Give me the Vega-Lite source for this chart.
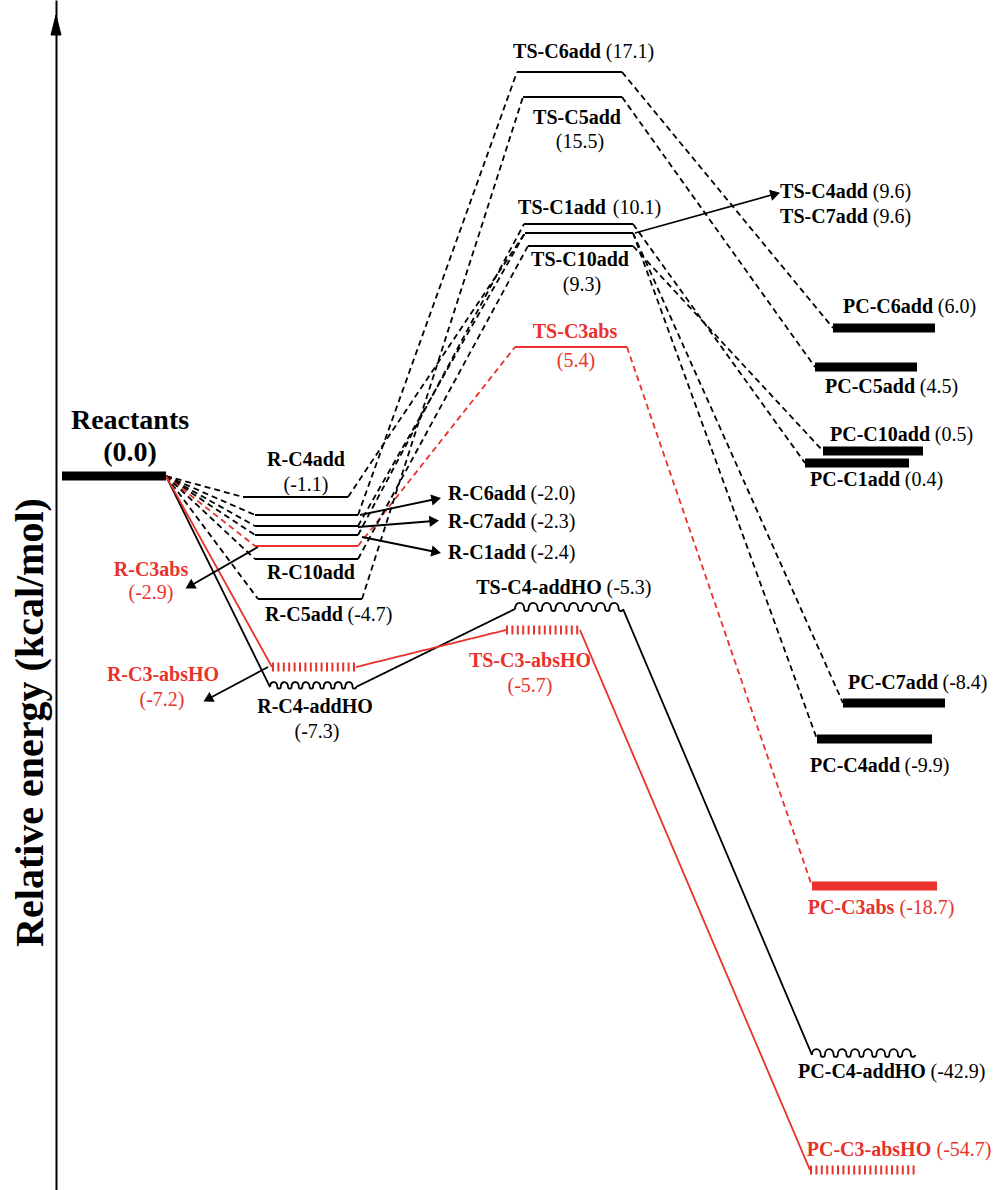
{
  "$schema": "https://vega.github.io/schema/vega-lite/v6.json",
  "width": 996,
  "height": 1190,
  "autosize": "none",
  "padding": 0,
  "background": "white",
  "config": {"view": {"stroke": null}, "text": {"font": "Liberation Serif"}},
  "datasets": {
    "levels": [
      {"species": "Reactants", "stage": "reactant", "route": "common", "reagent": "OH", "energy": 0.0, "x0": 62, "x1": 166},
      {"species": "R-C4add", "stage": "complex", "route": "addition", "reagent": "OH", "energy": -1.1, "x0": 243, "x1": 348},
      {"species": "R-C6add", "stage": "complex", "route": "addition", "reagent": "OH", "energy": -2.0, "x0": 255, "x1": 358},
      {"species": "R-C7add", "stage": "complex", "route": "addition", "reagent": "OH", "energy": -2.3, "x0": 255, "x1": 358},
      {"species": "R-C1add", "stage": "complex", "route": "addition", "reagent": "OH", "energy": -2.4, "x0": 255, "x1": 358},
      {"species": "R-C3abs", "stage": "complex", "route": "abstraction", "reagent": "OH", "energy": -2.9, "x0": 255, "x1": 358},
      {"species": "R-C10add", "stage": "complex", "route": "addition", "reagent": "OH", "energy": -3.3, "x0": 255, "x1": 358},
      {"species": "R-C5add", "stage": "complex", "route": "addition", "reagent": "OH", "energy": -4.7, "x0": 258, "x1": 362},
      {"species": "R-C3-absHO", "stage": "complex", "route": "abstraction", "reagent": "HO", "energy": -7.2, "x0": 272, "x1": 356},
      {"species": "R-C4-addHO", "stage": "complex", "route": "addition", "reagent": "HO", "energy": -7.3, "x0": 270, "x1": 356},
      {"species": "TS-C6add", "stage": "TS", "route": "addition", "reagent": "OH", "energy": 17.1, "x0": 517, "x1": 622},
      {"species": "TS-C5add", "stage": "TS", "route": "addition", "reagent": "OH", "energy": 15.5, "x0": 523, "x1": 622},
      {"species": "TS-C1add", "stage": "TS", "route": "addition", "reagent": "OH", "energy": 10.1, "x0": 524, "x1": 633},
      {"species": "TS-C4add", "stage": "TS", "route": "addition", "reagent": "OH", "energy": 9.6, "x0": 525, "x1": 633},
      {"species": "TS-C7add", "stage": "TS", "route": "addition", "reagent": "OH", "energy": 9.6, "x0": 525, "x1": 633},
      {"species": "TS-C10add", "stage": "TS", "route": "addition", "reagent": "OH", "energy": 9.3, "x0": 528, "x1": 633},
      {"species": "TS-C3abs", "stage": "TS", "route": "abstraction", "reagent": "OH", "energy": 5.4, "x0": 515, "x1": 627},
      {"species": "TS-C4-addHO", "stage": "TS", "route": "addition", "reagent": "HO", "energy": -5.3, "x0": 515, "x1": 623},
      {"species": "TS-C3-absHO", "stage": "TS", "route": "abstraction", "reagent": "HO", "energy": -5.7, "x0": 506, "x1": 580},
      {"species": "PC-C6add", "stage": "product", "route": "addition", "reagent": "OH", "energy": 6.0, "x0": 833, "x1": 935},
      {"species": "PC-C5add", "stage": "product", "route": "addition", "reagent": "OH", "energy": 4.5, "x0": 815, "x1": 917},
      {"species": "PC-C10add", "stage": "product", "route": "addition", "reagent": "OH", "energy": 0.5, "x0": 823, "x1": 923},
      {"species": "PC-C1add", "stage": "product", "route": "addition", "reagent": "OH", "energy": 0.4, "x0": 805, "x1": 909},
      {"species": "PC-C7add", "stage": "product", "route": "addition", "reagent": "OH", "energy": -8.4, "x0": 843, "x1": 945},
      {"species": "PC-C4add", "stage": "product", "route": "addition", "reagent": "OH", "energy": -9.9, "x0": 817, "x1": 932},
      {"species": "PC-C3abs", "stage": "product", "route": "abstraction", "reagent": "OH", "energy": -18.7, "x0": 812, "x1": 937},
      {"species": "PC-C4-addHO", "stage": "product", "route": "addition", "reagent": "HO", "energy": -42.9, "x0": 812, "x1": 915},
      {"species": "PC-C3-absHO", "stage": "product", "route": "abstraction", "reagent": "HO", "energy": -54.7, "x0": 810, "x1": 918}
    ],
    "links": [
      {"from": "Reactants", "to": "R-C4add"},
      {"from": "Reactants", "to": "R-C6add"},
      {"from": "Reactants", "to": "R-C7add"},
      {"from": "Reactants", "to": "R-C1add"},
      {"from": "Reactants", "to": "R-C3abs"},
      {"from": "Reactants", "to": "R-C10add"},
      {"from": "Reactants", "to": "R-C5add"},
      {"from": "Reactants", "to": "R-C4-addHO"},
      {"from": "Reactants", "to": "R-C3-absHO"},
      {"from": "R-C4add", "to": "TS-C4add"},
      {"from": "R-C6add", "to": "TS-C6add"},
      {"from": "R-C7add", "to": "TS-C7add"},
      {"from": "R-C1add", "to": "TS-C1add"},
      {"from": "R-C3abs", "to": "TS-C3abs"},
      {"from": "R-C10add", "to": "TS-C10add"},
      {"from": "R-C5add", "to": "TS-C5add"},
      {"from": "R-C4-addHO", "to": "TS-C4-addHO"},
      {"from": "R-C3-absHO", "to": "TS-C3-absHO"},
      {"from": "TS-C6add", "to": "PC-C6add"},
      {"from": "TS-C5add", "to": "PC-C5add"},
      {"from": "TS-C1add", "to": "PC-C1add"},
      {"from": "TS-C4add", "to": "PC-C4add"},
      {"from": "TS-C7add", "to": "PC-C7add"},
      {"from": "TS-C10add", "to": "PC-C10add"},
      {"from": "TS-C3abs", "to": "PC-C3abs"},
      {"from": "TS-C4-addHO", "to": "PC-C4-addHO"},
      {"from": "TS-C3-absHO", "to": "PC-C3-absHO"}
    ],
    "pointers": [
      {"target": "R-C6add", "x": 360, "y": 515, "x2": 436, "y2": 499},
      {"target": "R-C7add", "x": 358, "y": 527, "x2": 434, "y2": 521},
      {"target": "R-C1add", "x": 362, "y": 537, "x2": 436, "y2": 552},
      {"target": "R-C3abs", "x": 258, "y": 547, "x2": 190, "y2": 586},
      {"target": "R-C3-absHO", "x": 268, "y": 667, "x2": 208, "y2": 699},
      {"target": "TS-C4add", "x": 635, "y": 233, "x2": 775, "y2": 194}
    ],
    "axisTip": [{"x": 56, "y": 25}],
    "labels": [
      {"text": "Reactants", "part": "reactant", "route": "common", "x": 130, "y": 421},
      {"text": "(0.0)", "part": "reactant", "route": "common", "x": 130, "y": 453},
      {"text": "R-C4add", "part": "name", "route": "addition", "x": 306, "y": 460},
      {"text": "(-1.1)", "part": "value", "route": "addition", "x": 306, "y": 485},
      {"text": "R-C6add", "part": "name", "route": "addition", "x": 487, "y": 494},
      {"text": "(-2.0)", "part": "value", "route": "addition", "x": 553, "y": 494},
      {"text": "R-C7add", "part": "name", "route": "addition", "x": 487, "y": 522},
      {"text": "(-2.3)", "part": "value", "route": "addition", "x": 553, "y": 522},
      {"text": "R-C1add", "part": "name", "route": "addition", "x": 487, "y": 553},
      {"text": "(-2.4)", "part": "value", "route": "addition", "x": 553, "y": 553},
      {"text": "R-C3abs", "part": "name", "route": "abstraction", "x": 151, "y": 570},
      {"text": "(-2.9)", "part": "value", "route": "abstraction", "x": 151, "y": 593},
      {"text": "R-C10add", "part": "name", "route": "addition", "x": 311, "y": 573},
      {"text": "R-C5add", "part": "name", "route": "addition", "x": 304, "y": 615},
      {"text": "(-4.7)", "part": "value", "route": "addition", "x": 370, "y": 615},
      {"text": "R-C3-absHO", "part": "name", "route": "abstraction", "x": 163, "y": 675},
      {"text": "(-7.2)", "part": "value", "route": "abstraction", "x": 162, "y": 700},
      {"text": "R-C4-addHO", "part": "name", "route": "addition", "x": 315, "y": 707},
      {"text": "(-7.3)", "part": "value", "route": "addition", "x": 317, "y": 732},
      {"text": "TS-C6add", "part": "name", "route": "addition", "x": 557, "y": 52},
      {"text": "(17.1)", "part": "value", "route": "addition", "x": 630, "y": 52},
      {"text": "TS-C5add", "part": "name", "route": "addition", "x": 577, "y": 118},
      {"text": "(15.5)", "part": "value", "route": "addition", "x": 580, "y": 142},
      {"text": "TS-C1add", "part": "name", "route": "addition", "x": 562, "y": 208},
      {"text": "(10.1)", "part": "value", "route": "addition", "x": 637, "y": 208},
      {"text": "TS-C10add", "part": "name", "route": "addition", "x": 580, "y": 260},
      {"text": "(9.3)", "part": "value", "route": "addition", "x": 582, "y": 285},
      {"text": "TS-C4add", "part": "name", "route": "addition", "x": 824, "y": 192},
      {"text": "(9.6)", "part": "value", "route": "addition", "x": 892, "y": 192},
      {"text": "TS-C7add", "part": "name", "route": "addition", "x": 824, "y": 217},
      {"text": "(9.6)", "part": "value", "route": "addition", "x": 892, "y": 217},
      {"text": "TS-C3abs", "part": "name", "route": "abstraction", "x": 575, "y": 332},
      {"text": "(5.4)", "part": "value", "route": "abstraction", "x": 576, "y": 361},
      {"text": "TS-C4-addHO", "part": "name", "route": "addition", "x": 539, "y": 588},
      {"text": "(-5.3)", "part": "value", "route": "addition", "x": 629, "y": 588},
      {"text": "TS-C3-absHO", "part": "name", "route": "abstraction", "x": 530, "y": 661},
      {"text": "(-5.7)", "part": "value", "route": "abstraction", "x": 530, "y": 686},
      {"text": "PC-C6add", "part": "name", "route": "addition", "x": 888, "y": 307},
      {"text": "(6.0)", "part": "value", "route": "addition", "x": 957, "y": 307},
      {"text": "PC-C5add", "part": "name", "route": "addition", "x": 870, "y": 387},
      {"text": "(4.5)", "part": "value", "route": "addition", "x": 939, "y": 387},
      {"text": "PC-C10add", "part": "name", "route": "addition", "x": 880, "y": 435},
      {"text": "(0.5)", "part": "value", "route": "addition", "x": 954, "y": 435},
      {"text": "PC-C1add", "part": "name", "route": "addition", "x": 855, "y": 480},
      {"text": "(0.4)", "part": "value", "route": "addition", "x": 924, "y": 480},
      {"text": "PC-C7add", "part": "name", "route": "addition", "x": 893, "y": 683},
      {"text": "(-8.4)", "part": "value", "route": "addition", "x": 965, "y": 683},
      {"text": "PC-C4add", "part": "name", "route": "addition", "x": 855, "y": 766},
      {"text": "(-9.9)", "part": "value", "route": "addition", "x": 927, "y": 766},
      {"text": "PC-C3abs", "part": "name", "route": "abstraction", "x": 851, "y": 908},
      {"text": "(-18.7)", "part": "value", "route": "abstraction", "x": 927, "y": 908},
      {"text": "PC-C4-addHO", "part": "name", "route": "addition", "x": 862, "y": 1072},
      {"text": "(-42.9)", "part": "value", "route": "addition", "x": 958, "y": 1072},
      {"text": "PC-C3-absHO", "part": "name", "route": "abstraction", "x": 869, "y": 1150},
      {"text": "(-54.7)", "part": "value", "route": "abstraction", "x": 964, "y": 1150}
    ]
  },
  "layer": [
    {
      "layer": [
        {
          "data": {"name": "links"},
          "transform": [
            {"lookup": "from", "from": {"data": {"name": "levels"}, "key": "species", "fields": ["x1", "energy"]}, "as": ["xa", "ea"]},
            {"lookup": "to", "from": {"data": {"name": "levels"}, "key": "species", "fields": ["x0", "energy", "route", "reagent"]}, "as": ["xb", "eb", "route", "reagent"]}
          ],
          "mark": {"type": "rule", "strokeWidth": 1.8},
          "encoding": {
            "x": {"field": "xa", "type": "quantitative", "axis": null, "scale": {"domain": [0, 996], "nice": false, "zero": false}},
            "x2": {"field": "xb"},
            "y": {"field": "ea", "type": "quantitative", "axis": null, "scale": {"domain": [-54.7, -42.9, -18.7, -9.9, -8.4, -7.3, -7.2, -5.7, -5.3, -4.7, -3.3, -2.9, -2.4, -2.3, -2.0, -1.1, 0, 0.4, 0.5, 4.5, 5.4, 6.0, 9.3, 9.6, 10.1, 15.5, 17.1], "range": [1170, 1055, 886, 739, 703, 687, 667, 630, 609, 599, 559, 546, 535, 526, 515, 497, 476, 463, 451, 367, 347, 328, 246, 233, 224, 97, 72], "zero": false, "nice": false}},
            "y2": {"field": "eb"},
            "color": {"field": "route", "type": "nominal", "legend": null, "scale": {"domain": ["addition", "abstraction", "common"], "range": ["#000000", "#e8322b", "#000000"]}},
            "strokeDash": {"field": "reagent", "type": "nominal", "legend": null, "scale": {"domain": ["OH", "HO"], "range": [[6, 4], [1, 0]]}}
          }
        },
        {
          "data": {"name": "levels"},
          "transform": [{"filter": "datum.reagent === 'OH' && (datum.stage === 'complex' || datum.stage === 'TS')"}],
          "mark": {"type": "rule", "strokeWidth": 2.2},
          "encoding": {
            "x": {"field": "x0", "type": "quantitative", "axis": null, "scale": {"domain": [0, 996], "nice": false, "zero": false}},
            "x2": {"field": "x1"},
            "y": {"field": "energy", "type": "quantitative", "axis": null, "scale": {"domain": [-54.7, -42.9, -18.7, -9.9, -8.4, -7.3, -7.2, -5.7, -5.3, -4.7, -3.3, -2.9, -2.4, -2.3, -2.0, -1.1, 0, 0.4, 0.5, 4.5, 5.4, 6.0, 9.3, 9.6, 10.1, 15.5, 17.1], "range": [1170, 1055, 886, 739, 703, 687, 667, 630, 609, 599, 559, 546, 535, 526, 515, 497, 476, 463, 451, 367, 347, 328, 246, 233, 224, 97, 72], "zero": false, "nice": false}},
            "color": {"field": "route", "type": "nominal", "legend": null, "scale": {"domain": ["addition", "abstraction", "common"], "range": ["#000000", "#e8322b", "#000000"]}}
          }
        },
        {
          "data": {"name": "levels"},
          "transform": [{"filter": "datum.reagent === 'OH' && (datum.stage === 'reactant' || datum.stage === 'product')"}],
          "mark": {"type": "rule", "strokeWidth": 9},
          "encoding": {
            "x": {"field": "x0", "type": "quantitative", "axis": null, "scale": {"domain": [0, 996], "nice": false, "zero": false}},
            "x2": {"field": "x1"},
            "y": {"field": "energy", "type": "quantitative", "axis": null, "scale": {"domain": [-54.7, -42.9, -18.7, -9.9, -8.4, -7.3, -7.2, -5.7, -5.3, -4.7, -3.3, -2.9, -2.4, -2.3, -2.0, -1.1, 0, 0.4, 0.5, 4.5, 5.4, 6.0, 9.3, 9.6, 10.1, 15.5, 17.1], "range": [1170, 1055, 886, 739, 703, 687, 667, 630, 609, 599, 559, 546, 535, 526, 515, 497, 476, 463, 451, 367, 347, 328, 246, 233, 224, 97, 72], "zero": false, "nice": false}},
            "color": {"field": "route", "type": "nominal", "legend": null, "scale": {"domain": ["addition", "abstraction", "common"], "range": ["#000000", "#e8322b", "#000000"]}}
          }
        },
        {
          "data": {"name": "levels"},
          "transform": [{"filter": "datum.reagent === 'HO' && datum.route === 'abstraction'"}],
          "mark": {"type": "rule", "strokeWidth": 9, "strokeDash": [2, 3.4]},
          "encoding": {
            "x": {"field": "x0", "type": "quantitative", "axis": null, "scale": {"domain": [0, 996], "nice": false, "zero": false}},
            "x2": {"field": "x1"},
            "y": {"field": "energy", "type": "quantitative", "axis": null, "scale": {"domain": [-54.7, -42.9, -18.7, -9.9, -8.4, -7.3, -7.2, -5.7, -5.3, -4.7, -3.3, -2.9, -2.4, -2.3, -2.0, -1.1, 0, 0.4, 0.5, 4.5, 5.4, 6.0, 9.3, 9.6, 10.1, 15.5, 17.1], "range": [1170, 1055, 886, 739, 703, 687, 667, 630, 609, 599, 559, 546, 535, 526, 515, 497, 476, 463, 451, 367, 347, 328, 246, 233, 224, 97, 72], "zero": false, "nice": false}},
            "color": {"field": "route", "type": "nominal", "legend": null, "scale": {"domain": ["addition", "abstraction", "common"], "range": ["#000000", "#e8322b", "#000000"]}}
          }
        },
        {
          "data": {"name": "levels"},
          "transform": [
            {"filter": "datum.reagent === 'HO' && datum.route === 'addition'"},
            {"calculate": "(datum.x0 + datum.x1) / 2", "as": "xm"},
            {"calculate": "pow(datum.x1 - datum.x0, 2)", "as": "span2"}
          ],
          "mark": {"type": "point", "filled": false, "opacity": 1, "strokeWidth": 1.8, "shape": "M-1,0c0,-0.15 0.17,-0.15 0.17,0c0,0.05 0.08,0.05 0.08,0c0,-0.15 0.17,-0.15 0.17,0c0,0.05 0.08,0.05 0.08,0c0,-0.15 0.17,-0.15 0.17,0c0,0.05 0.08,0.05 0.08,0c0,-0.15 0.17,-0.15 0.17,0c0,0.05 0.08,0.05 0.08,0c0,-0.15 0.17,-0.15 0.17,0c0,0.05 0.08,0.05 0.08,0c0,-0.15 0.17,-0.15 0.17,0c0,0.05 0.08,0.05 0.08,0c0,-0.15 0.17,-0.15 0.17,0c0,0.05 0.08,0.05 0.08,0c0,-0.15 0.17,-0.15 0.17,0c0,0.05 0.08,0.05 0.08,0"},
          "encoding": {
            "x": {"field": "xm", "type": "quantitative", "axis": null, "scale": {"domain": [0, 996], "nice": false, "zero": false}},
            "y": {"field": "energy", "type": "quantitative", "axis": null, "scale": {"domain": [-54.7, -42.9, -18.7, -9.9, -8.4, -7.3, -7.2, -5.7, -5.3, -4.7, -3.3, -2.9, -2.4, -2.3, -2.0, -1.1, 0, 0.4, 0.5, 4.5, 5.4, 6.0, 9.3, 9.6, 10.1, 15.5, 17.1], "range": [1170, 1055, 886, 739, 703, 687, 667, 630, 609, 599, 559, 546, 535, 526, 515, 497, 476, 463, 451, 367, 347, 328, 246, 233, 224, 97, 72], "zero": false, "nice": false}},
            "size": {"field": "span2", "type": "quantitative", "scale": null},
            "color": {"field": "route", "type": "nominal", "legend": null, "scale": {"domain": ["addition", "abstraction", "common"], "range": ["#000000", "#e8322b", "#000000"]}}
          }
        }
      ]
    },
    {
      "layer": [
        {
          "data": {"name": "pointers"},
          "mark": {"type": "rule", "strokeWidth": 1.8, "color": "#000000"},
          "encoding": {
            "x": {"field": "x", "type": "quantitative", "axis": null, "scale": {"domain": [0, 996], "nice": false, "zero": false}},
            "x2": {"field": "x2"},
            "y": {"field": "y", "type": "quantitative", "scale": {"domain": [0, 1190], "reverse": true, "nice": false, "zero": false}, "axis": {"orient": "left", "offset": -56, "domain": true, "domainColor": "#000000", "domainWidth": 2, "ticks": false, "labels": false, "grid": false, "title": "Relative energy (kcal/mol)", "titleFont": "Liberation Serif", "titleFontSize": 40, "titleFontWeight": "bold", "titleColor": "#000000", "titleX": -26, "titleY": 722, "titleAlign": "center", "titleBaseline": "middle", "titleAngle": 270}},
            "y2": {"field": "y2"}
          }
        },
        {
          "data": {"name": "pointers"},
          "transform": [{"calculate": "atan2(datum.y2 - datum.y, datum.x2 - datum.x) * 180 / PI", "as": "heading"}],
          "mark": {"type": "point", "filled": true, "opacity": 1, "fill": "#000000", "stroke": "#000000", "strokeWidth": 1, "size": 90, "shape": "triangle-right"},
          "encoding": {
            "x": {"field": "x2", "type": "quantitative", "axis": null, "scale": {"domain": [0, 996], "nice": false, "zero": false}},
            "y": {"field": "y2", "type": "quantitative", "scale": {"domain": [0, 1190], "reverse": true, "nice": false, "zero": false}, "axis": {"orient": "left", "offset": -56, "domain": true, "domainColor": "#000000", "domainWidth": 2, "ticks": false, "labels": false, "grid": false, "title": "Relative energy (kcal/mol)", "titleFont": "Liberation Serif", "titleFontSize": 40, "titleFontWeight": "bold", "titleColor": "#000000", "titleX": -26, "titleY": 722, "titleAlign": "center", "titleBaseline": "middle", "titleAngle": 270}},
            "angle": {"field": "heading", "type": "quantitative", "scale": null}
          }
        },
        {
          "data": {"name": "axisTip"},
          "mark": {"type": "point", "filled": true, "opacity": 1, "fill": "#000000", "stroke": "#000000", "strokeWidth": 1, "size": 400, "shape": "M0,-1l0.5,2l-1,0z"},
          "encoding": {
            "x": {"field": "x", "type": "quantitative", "axis": null, "scale": {"domain": [0, 996], "nice": false, "zero": false}},
            "y": {"field": "y", "type": "quantitative", "scale": {"domain": [0, 1190], "reverse": true, "nice": false, "zero": false}, "axis": {"orient": "left", "offset": -56, "domain": true, "domainColor": "#000000", "domainWidth": 2, "ticks": false, "labels": false, "grid": false, "title": "Relative energy (kcal/mol)", "titleFont": "Liberation Serif", "titleFontSize": 40, "titleFontWeight": "bold", "titleColor": "#000000", "titleX": -26, "titleY": 722, "titleAlign": "center", "titleBaseline": "middle", "titleAngle": 270}}
          }
        },
        {
          "data": {"name": "labels"},
          "transform": [{"filter": "datum.part === 'name'"}],
          "mark": {"type": "text", "font": "Liberation Serif", "fontSize": 20, "fontWeight": "bold", "align": "center", "baseline": "middle"},
          "encoding": {
            "x": {"field": "x", "type": "quantitative", "axis": null, "scale": {"domain": [0, 996], "nice": false, "zero": false}},
            "y": {"field": "y", "type": "quantitative", "scale": {"domain": [0, 1190], "reverse": true, "nice": false, "zero": false}, "axis": {"orient": "left", "offset": -56, "domain": true, "domainColor": "#000000", "domainWidth": 2, "ticks": false, "labels": false, "grid": false, "title": "Relative energy (kcal/mol)", "titleFont": "Liberation Serif", "titleFontSize": 40, "titleFontWeight": "bold", "titleColor": "#000000", "titleX": -26, "titleY": 722, "titleAlign": "center", "titleBaseline": "middle", "titleAngle": 270}},
            "text": {"field": "text"},
            "color": {"field": "route", "type": "nominal", "legend": null, "scale": {"domain": ["addition", "abstraction", "common"], "range": ["#000000", "#e8322b", "#000000"]}}
          }
        },
        {
          "data": {"name": "labels"},
          "transform": [{"filter": "datum.part === 'value'"}],
          "mark": {"type": "text", "font": "Liberation Serif", "fontSize": 20, "fontWeight": "normal", "align": "center", "baseline": "middle"},
          "encoding": {
            "x": {"field": "x", "type": "quantitative", "axis": null, "scale": {"domain": [0, 996], "nice": false, "zero": false}},
            "y": {"field": "y", "type": "quantitative", "scale": {"domain": [0, 1190], "reverse": true, "nice": false, "zero": false}, "axis": {"orient": "left", "offset": -56, "domain": true, "domainColor": "#000000", "domainWidth": 2, "ticks": false, "labels": false, "grid": false, "title": "Relative energy (kcal/mol)", "titleFont": "Liberation Serif", "titleFontSize": 40, "titleFontWeight": "bold", "titleColor": "#000000", "titleX": -26, "titleY": 722, "titleAlign": "center", "titleBaseline": "middle", "titleAngle": 270}},
            "text": {"field": "text"},
            "color": {"field": "route", "type": "nominal", "legend": null, "scale": {"domain": ["addition", "abstraction", "common"], "range": ["#000000", "#e8322b", "#000000"]}}
          }
        },
        {
          "data": {"name": "labels"},
          "transform": [{"filter": "datum.part === 'reactant'"}],
          "mark": {"type": "text", "font": "Liberation Serif", "fontSize": 28, "fontWeight": "bold", "align": "center", "baseline": "middle"},
          "encoding": {
            "x": {"field": "x", "type": "quantitative", "axis": null, "scale": {"domain": [0, 996], "nice": false, "zero": false}},
            "y": {"field": "y", "type": "quantitative", "scale": {"domain": [0, 1190], "reverse": true, "nice": false, "zero": false}, "axis": {"orient": "left", "offset": -56, "domain": true, "domainColor": "#000000", "domainWidth": 2, "ticks": false, "labels": false, "grid": false, "title": "Relative energy (kcal/mol)", "titleFont": "Liberation Serif", "titleFontSize": 40, "titleFontWeight": "bold", "titleColor": "#000000", "titleX": -26, "titleY": 722, "titleAlign": "center", "titleBaseline": "middle", "titleAngle": 270}},
            "text": {"field": "text"},
            "color": {"field": "route", "type": "nominal", "legend": null, "scale": {"domain": ["addition", "abstraction", "common"], "range": ["#000000", "#e8322b", "#000000"]}}
          }
        }
      ]
    }
  ],
  "resolve": {"scale": {"y": "independent"}}
}
